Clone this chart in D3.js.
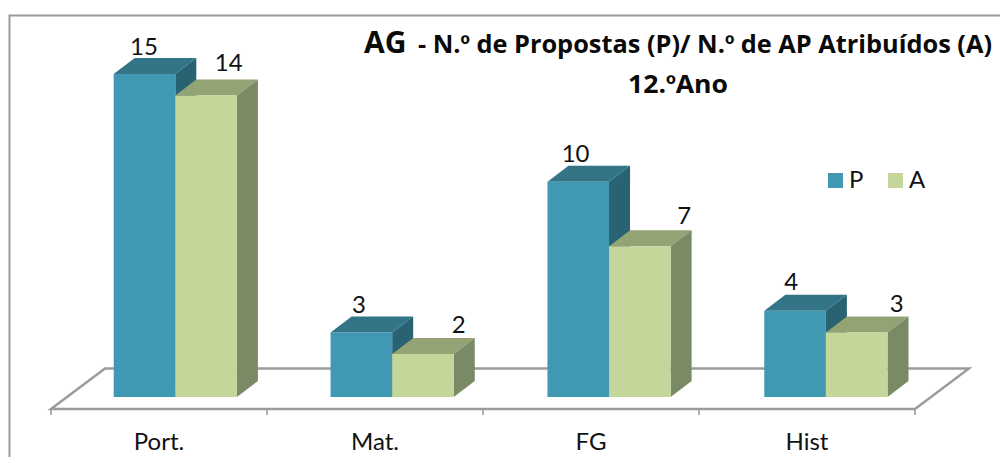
<!DOCTYPE html>
<html><head><meta charset="utf-8">
<script src="https://cdn.jsdelivr.net/npm/d3@7"></script>
<style>html,body{margin:0;padding:0;background:#fff;overflow:hidden}svg{display:block}text{font-family:Lato,"Open Sans",sans-serif;fill:#111}.ttl{font-family:"Open Sans",Lato,sans-serif;font-weight:700;fill:#0a0a0a}.ord{font-family:"Liberation Sans",sans-serif}</style>
</head><body><div id="c"></div>
<script>
const categories = ["Port.","Mat.","FG","Hist"];
const seriesNames = ["P","A"];
const valuesP = [15,3,10,4];
const valuesA = [14,2,7,3];
const titleMain = "AG";
const titleRest = "- N.º de Propostas (P)/ N.º de AP Atribuídos (A)";
const titleLine2 = "12.ºAno";
const colors = {P:{front:"#4198b2",top:"#337587",side:"#296273"},A:{front:"#c4d69a",top:"#93a374",side:"#7a8a64"}};
// hand-placed data-label anchors, as in the source chart: offset from each bar's left edge / top
const labelOffP = [[30.2,-19],[28.3,-19.7],[28.2,-20],[26.8,-21]];
const labelOffA = [[53.4,-24.5],[66.5,-21.2],[75.2,-22.3],[70.9,-20.4]];

const W=1000,H=457;
const svg=d3.select("#c").append("svg").attr("width",W).attr("height",H);
svg.append("rect").attr("x",9.5).attr("y",15.5).attr("width",W+20).attr("height",H+20).attr("fill","#fff").attr("stroke","#9a9a9a").attr("stroke-width",2);

const dx=21,dy=-16;
const x=d3.scaleBand().domain(categories).range([51,915]);
const barX=d3.scalePoint().domain(categories).range([113.7,764.3]);
const y=d3.scaleLinear().domain([0,15]).range([397,74]);
const inner=61.6;
const floorFront=409, floorBack=368.5, floorDx=54;
const grey="#9b9b9b";

svg.append("path").attr("fill","none").attr("stroke",grey).attr("stroke-width",2.4)
  .attr("d",`M51,${floorFront}L${51+floorDx},${floorBack}L${915+floorDx},${floorBack}L915,${floorFront}Z`);
const ticks=categories.map(c=>x(c)).concat([915]);
svg.selectAll(".tick").data(ticks).join("line").attr("x1",d=>d).attr("x2",d=>d)
  .attr("y1",floorFront).attr("y2",415).attr("stroke",grey).attr("stroke-width",1.6);

function bar(x0,v,c){
  const t=y(v),b=y(0),x1=x0+inner;
  const g=svg.append("g");
  g.append("path").attr("fill",c.top).attr("d",`M${x0},${t}L${x0+dx},${t+dy}L${x1+dx},${t+dy}L${x1},${t}Z`);
  g.append("path").attr("fill",c.side).attr("d",`M${x1},${t}L${x1+dx},${t+dy}L${x1+dx},${b+dy}L${x1},${b}Z`);
  g.append("rect").attr("x",x0).attr("y",t).attr("width",inner).attr("height",b-t).attr("fill",c.front);
}
categories.forEach((c,i)=>{
  bar(barX(c),valuesP[i],colors.P);
  bar(barX(c)+inner,valuesA[i],colors.A);
});
const fs=24;
categories.forEach((c,i)=>{
  svg.append("text").attr("x",barX(c)+labelOffP[i][0]).attr("y",y(valuesP[i])+labelOffP[i][1]).attr("text-anchor","middle").attr("font-size",fs).text(valuesP[i]);
  svg.append("text").attr("x",barX(c)+inner+labelOffA[i][0]).attr("y",y(valuesA[i])+labelOffA[i][1]).attr("text-anchor","middle").attr("font-size",fs).text(valuesA[i]);
  svg.append("text").attr("x",x(c)+x.bandwidth()/2).attr("y",450).attr("text-anchor","middle").attr("font-size",fs).text(c);
});
function fillTitle(sel,str){
  str.split(/(º)/).forEach(p=>{ sel.append("tspan").attr("class",p==="º"?"ord":null).text(p); });
}
svg.append("text").attr("class","ttl").attr("x",364).attr("y",53).attr("font-size",30).text(titleMain);
fillTitle(svg.append("text").attr("class","ttl").attr("x",418).attr("y",53).attr("font-size",25).attr("textLength",574).attr("lengthAdjust","spacingAndGlyphs"),titleRest);
fillTitle(svg.append("text").attr("class","ttl").attr("x",628).attr("y",93).attr("font-size",25).attr("textLength",100).attr("lengthAdjust","spacingAndGlyphs"),titleLine2);
const lx=[828,888];
seriesNames.forEach((s,i)=>{
  svg.append("rect").attr("x",lx[i]).attr("y",173).attr("width",15).attr("height",15).attr("fill",colors[s].front);
  svg.append("text").attr("x",lx[i]+21).attr("y",188).attr("font-size",fs).text(s);
});
</script></body></html>
